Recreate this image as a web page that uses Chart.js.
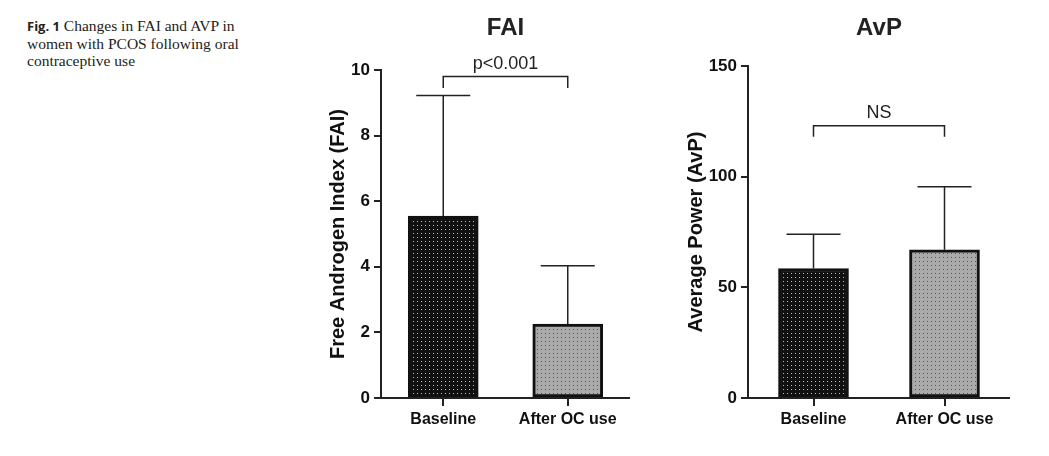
<!DOCTYPE html>
<html><head><meta charset="utf-8">
<script src="https://cdn.jsdelivr.net/npm/chart.js@4"></script>
<style>
body{margin:0;background:#fff;width:1049px;height:456px;position:relative;overflow:hidden}
#cap{position:absolute;left:27px;top:17px;width:250px;font-family:"Liberation Serif",serif;font-size:15.5px;line-height:17px;color:#222}
#cap b{font-family:"Open Sans",sans-serif;font-size:13px}
canvas{position:absolute;top:0}
</style></head><body>
<div id="cap"><b>Fig. 1</b> Changes in FAI and AVP in women with PCOS following oral contraceptive use</div>
<div style="position:absolute;left:300px;top:0;width:330px;height:456px"><canvas id="c1"></canvas></div>
<div style="position:absolute;left:670px;top:0;width:340px;height:456px"><canvas id="c2"></canvas></div>
<script>
const categories = ["Baseline", "After OC use"];
const faiMean = [5.55, 2.25];
const faiSD = [3.67, 1.78];
const avpMean = [58.5, 67];
const avpSD = [15.5, 28.5];

function dots(bg, dot) {
  const p = document.createElement("canvas");
  p.width = 4; p.height = 4;
  const g = p.getContext("2d");
  g.fillStyle = bg; g.fillRect(0, 0, 4, 4);
  g.fillStyle = dot; g.fillRect(1, 1, 1, 1);
  return g.createPattern(p, "repeat");
}

const extras = {
  id: "extras",
  afterDatasetsDraw(chart, args, o) {
    const ctx = chart.ctx, y = chart.scales.y;
    const meta = chart.getDatasetMeta(0);
    ctx.save();
    ctx.strokeStyle = "#222"; ctx.lineWidth = 1.5;
    meta.data.forEach((b, i) => {
      const top = y.getPixelForValue(o.mean[i] + o.sd[i]);
      ctx.beginPath();
      ctx.moveTo(b.x, b.y); ctx.lineTo(b.x, top);
      ctx.moveTo(b.x - 27, top); ctx.lineTo(b.x + 27, top);
      ctx.stroke();
    });
    const x1 = meta.data[0].x, x2 = meta.data[1].x;
    const by = y.getPixelForValue(o.bracket), ly = y.getPixelForValue(o.leg);
    ctx.beginPath();
    ctx.moveTo(x1, ly); ctx.lineTo(x1, by); ctx.lineTo(x2, by); ctx.lineTo(x2, ly);
    ctx.stroke();
    ctx.fillStyle = "#222"; ctx.textAlign = "center"; ctx.textBaseline = "bottom";
    ctx.font = "18px 'Liberation Sans', Arial";
    ctx.fillText(o.label, (x1 + x2) / 2, by - 4);
    ctx.font = "bold 24px 'Liberation Sans', Arial";
    ctx.textBaseline = "middle";
    ctx.fillText(o.title, (x1 + x2) / 2, 28);
    ctx.restore();
  }
};

function make(id, mean, sd, max, step, yTitle, padL, yw, top, o) {
  new Chart(document.getElementById(id), {
    type: "bar",
    data: {
      labels: categories,
      datasets: [{
        data: mean,
        backgroundColor: [dots("#111", "#bbb"), dots("#aaa", "#555")],
        borderColor: "#111", borderWidth: 3, borderSkipped: false,
        barThickness: 70
      }]
    },
    plugins: [extras],
    options: {
      responsive: true, maintainAspectRatio: false, animation: false,
      layout: { padding: { top: top, left: padL, right: 0 } },
      plugins: { legend: { display: false }, tooltip: { enabled: false }, extras: o },
      scales: {
        x: {
          grid: { display: true, drawOnChartArea: false, offset: false, tickLength: 8, color: "#222", lineWidth: 2 },
          border: { color: "#222", width: 2 },
          ticks: { color: "#111", font: { family: "Liberation Sans", size: 16, weight: "bold" }, padding: 4 },
          afterFit: s => { s.height = 58; }
        },
        y: {
          min: 0, max: max,
          ticks: { stepSize: step, color: "#111", font: { family: "Liberation Sans", size: 17, weight: "bold" }, padding: 4 },
          grid: { display: true, drawOnChartArea: false, tickLength: 7, color: "#222", lineWidth: 2 },
          border: { color: "#222", width: 2 },
          title: { display: true, text: yTitle, color: "#111", font: { family: "Liberation Sans", size: 20, weight: "bold" }, padding: 2 },
          afterFit: s => { s.width = yw; }
        }
      }
    }
  });
}

make("c1", faiMean, faiSD, 10, 2, "Free Androgen Index (FAI)", 24, 57, 70,
  { mean: faiMean, sd: faiSD, bracket: 9.8, leg: 9.45, label: "p<0.001", title: "FAI" });
make("c2", avpMean, avpSD, 150, 50, "Average Power (AvP)", 12, 66, 66,
  { mean: avpMean, sd: avpSD, bracket: 123, leg: 118, label: "NS", title: "AvP" });
</script>
</body></html>
